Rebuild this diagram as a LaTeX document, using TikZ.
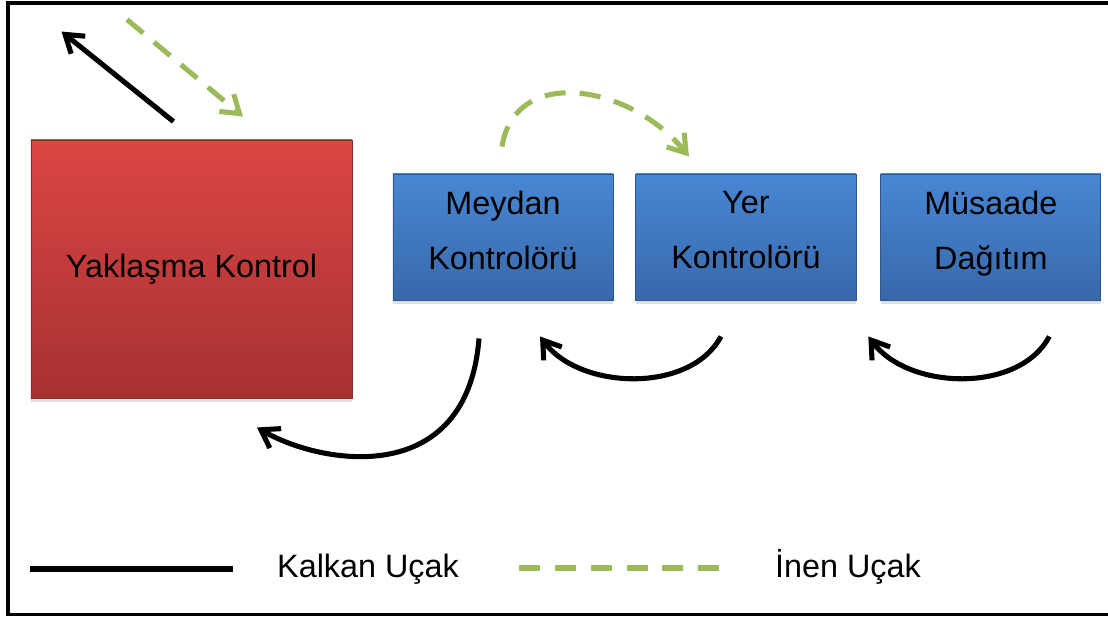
\documentclass[tikz,border=0pt]{standalone}
\usepackage{fontspec}
\setmainfont{Liberation Sans}
\usetikzlibrary{
	arrows.meta,
	shadows,
	positioning
}
\definecolor{BoxRedTop}{RGB}{219,70,68}
\definecolor{BoxRedBot}{RGB}{166,49,49}
\definecolor{BoxBlueTop}{RGB}{72,135,212}
\definecolor{BoxBlueBot}{RGB}{56,104,170}
\definecolor{LandGreen}{RGB}{155,187,89}

\begin{document}
\begin{tikzpicture}[x=0.025cm, y=-0.025cm,
		every node/.style={font=\fontsize{23}{39}\selectfont},
		redbox/.style={rectangle, inner sep=0pt, minimum width=8.025cm, minimum height=6.45cm,
			top color=BoxRedTop, bottom color=BoxRedBot, draw=BoxRedBot!85!black, line width=0.6pt,
			drop shadow={opacity=0.25, shadow xshift=0pt, shadow yshift=-2.5pt}},
		bluebox/.style={rectangle, inner sep=0pt, minimum width=5.5cm, minimum height=3.15cm,
			align=center, text depth=10pt,
			top color=BoxBlueTop, bottom color=BoxBlueBot, draw=BoxBlueBot!85!black, line width=0.6pt,
			drop shadow={opacity=0.25, shadow xshift=0pt, shadow yshift=-2.5pt}},
		takeoff/.style={line width=3.6pt, black, -{Straight Barb[length=12pt,width=16pt]}},
		landing/.style={line width=3.6pt, LandGreen, dash pattern=on 15pt off 10pt,
			-{Straight Barb[length=12pt,width=16pt]}}]
		\useasboundingbox (0,0) rectangle (1108,619);
		% cerceve
		\draw[line width=2.8pt] (8,3) rectangle (1125,614.5);
		% kutular
		\node[redbox] (yak) at (191.5,269) {Yaklaşma Kontrol};
		\node[bluebox] (meydan) at (503,237) {Meydan\\Kontrolörü};
		\node[bluebox, right=0.55cm of meydan] (yer) {Yer\\Kontrolörü};
		\node[bluebox, right=0.6cm of yer] (musaade) {Müsaade\\Dağıtım};
		% kalkan ucaklar
		\draw[takeoff] ([shift={(-18,-18)}]yak.north) -- ([shift={(-130,-108)}]yak.north);
		\draw[takeoff] ([shift={(-25,36)}]yer.south)
			.. controls +(-30,57) and +(40,54) .. ([shift={(37,36)}]meydan.south);
		\draw[takeoff] ([shift={(58.5,36)}]musaade.south)
			.. controls +(-30,57) and +(40,54) .. ([shift={(-122.5,36)}]musaade.south);
		\draw[takeoff] ([shift={(-24,38)}]meydan.south)
			.. controls +(-12,152) and +(63,37) .. ([shift={(65.5,29)}]yak.south);
		% inen ucaklar
		\draw[landing] ([shift={(-64.5,-120)}]yak.north) -- ([shift={(51.5,-23)}]yak.north);
		\draw[landing] ([shift={(-1,-27)}]meydan.north)
			.. controls +(13,-82) and +(-58,-72) .. ([shift={(-57,-17)}]yer.north);
		% aciklama
		\coordinate (kalkanA) at (30,569);
		\coordinate (kalkanB) at (233,569);
		\coordinate (inenA) at (519,568);
		\coordinate (inenB) at (719,568);
		\draw[line width=3.6pt] (kalkanA) -- (kalkanB);
		\draw[line width=3.6pt, LandGreen, dash pattern=on 14.9pt off 10.6pt] (inenA) -- (inenB);
		\node[anchor=base] (kalkanTxt) at (368,577) {Kalkan Uçak};
		\node[anchor=base] (inenTxt) at (848,577) {İnen Uçak};
	\end{tikzpicture}
\end{document}
